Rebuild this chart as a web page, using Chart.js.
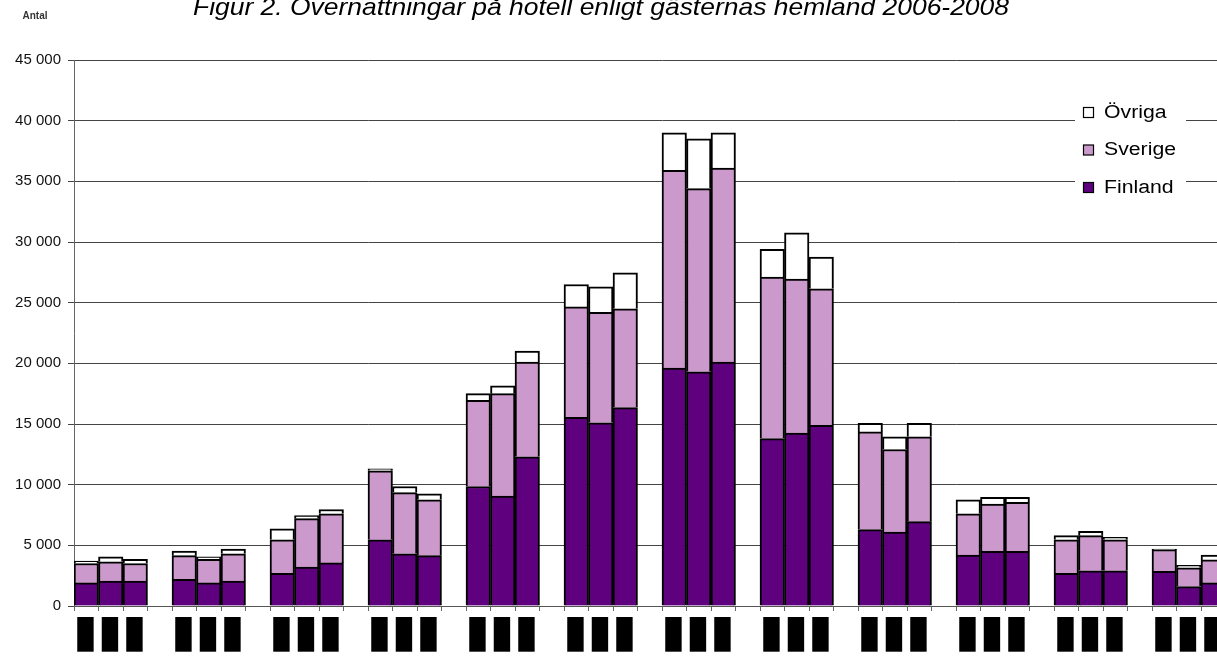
<!DOCTYPE html>
<html>
<head>
<meta charset="utf-8">
<script src="https://cdn.jsdelivr.net/npm/chart.js@4"></script>
<style>
html,body{margin:0;padding:0;background:#fff;overflow:hidden;width:1217px;height:657px}
#wrap{position:absolute;left:0;top:0;width:1250px;height:657px}
</style>
</head>
<body>
<div id="wrap"><canvas id="c" width="1250" height="657"></canvas></div>
<script>
// ---- data ----
const months = ['Jan','Feb','Mar','Apr','Maj','Jun','Jul','Aug','Sep','Okt','Nov','Dec'];
const years = ['2006','2007','2008'];
const finland = [1900,2050,2050, 2200,1900,2050, 2700,3200,3550, 5450,4300,4150,
                 9850,9050,12300, 15550,15100,16350, 19600,19300,20100, 13800,14250,14900,
                 6300,6100,6950, 4200,4500,4500, 2700,2900,2900, 2850,1600,1900];
const sverige = [1600,1600,1450, 1950,1950,2250, 2750,4000,4050, 5700,5050,4600,
                 7100,8450,7800, 9100,9100,8150, 16300,15100,16000, 13300,12700,11250,
                 8050,6800,7000, 3400,3900,4050, 2750,2900,2550, 1800,1550,1900];
const ovriga  = [200,400,350, 380,200,400, 900,250,350, 150,500,500,
                 550,650,900, 1850,2100,2950, 3100,4100,2900, 2300,3800,2600,
                 700,1050,1100, 1150,550,400, 350,350,200, 50,200,400];
const yTicks = [0,5000,10000,15000,20000,25000,30000,35000,40000,45000];
const titleText = 'Figur 2. Övernattningar på hotell enligt gästernas hemland 2006-2008';
const yAxisTitle = 'Antal';

// ---- build category layout: 3 years per month + one empty slot ----
const labels = [];
const build = arr => { const out = []; months.forEach((m, mi) => { years.forEach((y, yi) => out.push(arr[mi*3+yi])); out.push(null); }); return out; };
months.forEach(m => { years.forEach(y => labels.push(y)); labels.push(''); });

const colFin = '#5f007f', colSve = '#cc99cc', colOvr = '#ffffff';
const fontFam = '"Liberation Sans", Arial, sans-serif';

const deco = {
  id: 'deco',
  afterDraw(chart) {
    const ctx = chart.ctx;
    ctx.save();
    // title (horizontally stretched like the original)
    ctx.fillStyle = '#000';
    ctx.font = 'italic 24px ' + fontFam;
    const w = ctx.measureText(titleText).width;
    ctx.translate(601, 15);
    ctx.scale(816 / w, 1);
    ctx.textAlign = 'center';
    ctx.textBaseline = 'alphabetic';
    ctx.fillText(titleText, 0, 0);
    ctx.restore();

    ctx.save();
    ctx.fillStyle = '#333';
    ctx.font = 'bold 10px ' + fontFam;
    ctx.textAlign = 'center';
    ctx.textBaseline = 'middle';
    ctx.fillText(yAxisTitle, 35, 16);
    ctx.restore();

    // legend (floating, reversed order)
    ctx.save();
    ctx.fillStyle = '#fff';
    ctx.fillRect(1075, 96, 111, 108);
    const ds = chart.data.datasets.slice().reverse();
    const rows = [112, 149.5, 187];
    ctx.font = '18px ' + fontFam;
    ctx.textBaseline = 'middle';
    ctx.textAlign = 'left';
    ds.forEach((d, i) => {
      const y = rows[i];
      ctx.fillStyle = d.backgroundColor;
      ctx.fillRect(1083.5, y - 4.5, 10, 10);
      ctx.strokeStyle = '#000';
      ctx.lineWidth = 1.2;
      ctx.strokeRect(1083.5, y - 4.5, 10, 10);
      ctx.fillStyle = '#000';
      ctx.save();
      ctx.translate(1104, y + 1);
      ctx.scale(1.18, 1);
      ctx.fillText(d.label, 0, 0);
      ctx.restore();
    });
    ctx.restore();
  }
};

new Chart(document.getElementById('c'), {
  type: 'bar',
  data: {
    labels: labels,
    datasets: [
      { label: 'Finland', data: build(finland), backgroundColor: colFin },
      { label: 'Sverige', data: build(sverige), backgroundColor: colSve },
      { label: 'Övriga', data: build(ovriga), backgroundColor: colOvr }
    ]
  },
  options: {
    responsive: false,
    animation: false,
    layout: { padding: { top: 60, left: 0, right: 0, bottom: 0 } },
    datasets: { bar: { barPercentage: 1, categoryPercentage: 1, borderColor: '#000', borderWidth: 2 } },
    plugins: { legend: { display: false }, tooltip: { enabled: false } },
    scales: {
      x: {
        stacked: true,
        offset: true,
        grid: { display: true, offset: true, drawOnChartArea: false, drawTicks: true, tickLength: 5, color: '#666' },
        border: { display: true, color: '#555', width: 1 },
        ticks: {
          autoSkip: false, minRotation: 90, maxRotation: 90,
          color: '#000', padding: 10, labelOffset: -8,
          font: { family: fontFam, size: 12, weight: 'bold' },
          showLabelBackdrop: c => c.index % 4 !== 3,
          backdropColor: '#000',
          backdropPadding: { top: 1, bottom: 1, left: 4, right: 4 }
        },
        afterFit(s) { s.height = 51; s.paddingLeft = 0; s.paddingRight = 0; }
      },
      y: {
        stacked: true,
        min: 0, max: 45000,
        afterBuildTicks(s) { s.ticks = yTicks.map(v => ({ value: v })); },
        ticks: {
          color: '#111', padding: 7,
          font: { family: fontFam, size: 15 },
          callback: v => String(v).replace(/\B(?=(\d{3})+(?!\d))/g, ' ')
        },
        grid: { color: '#444', tickLength: 6, lineWidth: 1 },
        border: { color: '#666' },
        afterFit(s) { s.width = 74; s.paddingTop = 0; s.paddingBottom = 0; }
      }
    }
  },
  plugins: [deco]
});
</script>
</body>
</html>
